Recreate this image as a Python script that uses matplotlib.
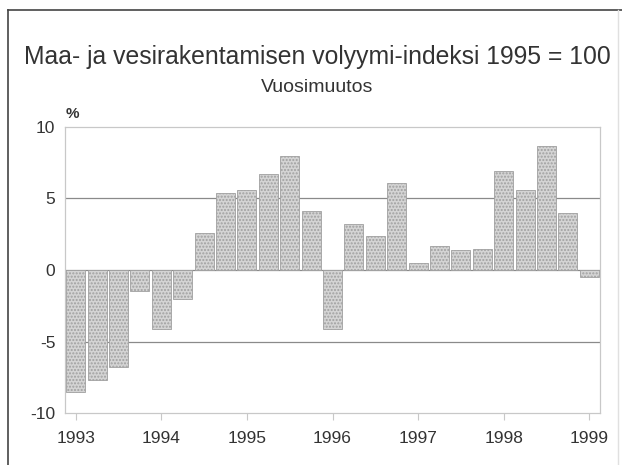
import matplotlib
matplotlib.use("Agg")
import matplotlib.pyplot as plt
from matplotlib.lines import Line2D

quarters = ["1993Q1", "1993Q2", "1993Q3", "1993Q4",
            "1994Q1", "1994Q2", "1994Q3", "1994Q4",
            "1995Q1", "1995Q2", "1995Q3", "1995Q4",
            "1996Q1", "1996Q2", "1996Q3", "1996Q4",
            "1997Q1", "1997Q2", "1997Q3", "1997Q4",
            "1998Q1", "1998Q2", "1998Q3", "1998Q4",
            "1999Q1"]
values = [-8.5, -7.7, -6.8, -1.5,
          -4.1, -2.0, 2.6, 5.4,
          5.6, 6.7, 8.0, 4.1,
          -4.1, 3.2, 2.4, 6.1,
          0.5, 1.7, 1.4, 1.5,
          6.9, 5.6, 8.7, 4.0,
          -0.5]
year_labels = ["1993", "1994", "1995", "1996", "1997", "1998", "1999"]
y_ticks = [-10, -5, 0, 5, 10]

plt.rcParams['font.family'] = ['Liberation Sans Narrow', 'Liberation Sans', 'DejaVu Sans']
txt = '#333333'

fig = plt.figure(figsize=(6.22, 4.65), dpi=100)
fig.patch.set_facecolor('white')

# figure frame
fig.add_artist(Line2D([8/622, 8/622], [0, 1 - 10/465], transform=fig.transFigure, color='#444444', lw=1.2))
fig.add_artist(Line2D([8/622, 1.0], [1 - 10/465, 1 - 10/465], transform=fig.transFigure, color='#444444', lw=1.2))
fig.add_artist(Line2D([618/622, 618/622], [0, 1 - 10/465], transform=fig.transFigure, color='#e0e0e0', lw=1.0))

ax = fig.add_axes([65/622, 1 - 413/465, 535/622, (413 - 127)/465])
x = list(range(len(values)))
ax.bar(x, values, width=0.88, facecolor='#d4d4d4', edgecolor='#a0a0a0',
       hatch='.....', linewidth=0.6, zorder=3)

ax.set_xlim(-0.5, 24.5)
ax.set_ylim(-10, 10)
ax.set_yticks(y_ticks)
ax.set_yticklabels([str(v) for v in y_ticks])
ax.set_xticks([i * 4 for i in range(len(year_labels))])
ax.set_xticklabels(year_labels)

for v in [-5, 0, 5]:
    ax.axhline(v, color='#8a8a8a', lw=0.9, zorder=2)

for s in ax.spines.values():
    s.set_color('#c8c8c8')
    s.set_linewidth(0.9)

ax.tick_params(axis='y', length=0, pad=7, labelsize=12.5, labelcolor=txt)
ax.tick_params(axis='x', length=5, width=0.8, color='#c8c8c8', pad=8, labelsize=12.5, labelcolor=txt)

fig.text(317/622, 1 - 57/465, "Maa- ja vesirakentamisen volyymi-indeksi 1995 = 100",
         ha='center', va='center', fontsize=17.8, color=txt)
fig.text(317/622, 1 - 88/465, "Vuosimuutos", ha='center', va='center', fontsize=14, color=txt)
fig.text(72/622, 1 - 114/465, "%", ha='center', va='center', fontsize=11, fontweight='bold', color=txt)

fig.savefig("out.png", dpi=100)
